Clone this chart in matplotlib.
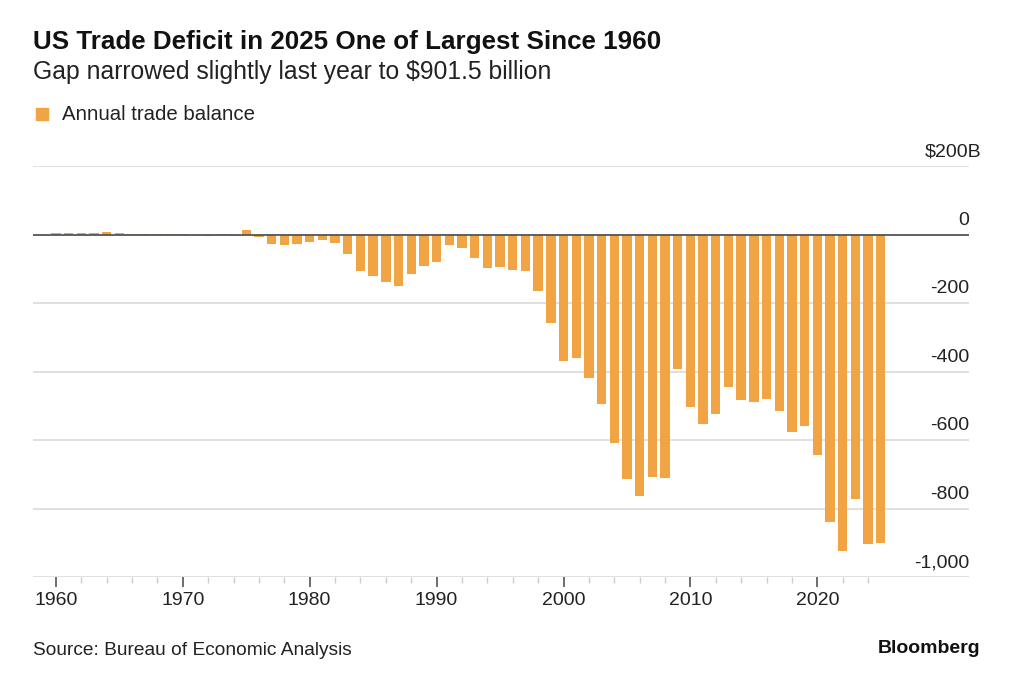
import numpy as np
import matplotlib
matplotlib.use("Agg")
import matplotlib.pyplot as plt

plt.rcParams['font.family'] = ['Liberation Sans', 'DejaVu Sans']

# annual US trade balance, billions of dollars
years = list(range(1960, 2026))
balance = [
    3.5, 4.2, 3.4, 4.2, 6.8, 4.9, 2.9, 2.6, 0.3, 0.1,            # 1960s
    2.3, -1.3, -5.4, 1.9, -4.3, 12.4, -6.1, -29, -32, -27,       # 1970s
    -21, -17, -25, -58, -108, -121, -138, -151, -114, -92,       # 1980s
    -80, -31, -38, -69, -98, -96, -104, -108, -164, -258,        # 1990s
    -369, -360, -419, -495, -609, -715, -763, -709, -711, -394,  # 2000s
    -503, -553, -524, -445, -483, -489, -479, -516, -576, -558,  # 2010s
    -645, -838, -923, -772, -903, -901.5,                        # 2020s
]
ytick_vals = [200, 0, -200, -400, -600, -800, -1000]
ytick_labels = ['$200B', '0', '-200', '-400', '-600', '-800', '-1,000']
xtick_major = [1960, 1970, 1980, 1990, 2000, 2010, 2020]
xtick_minor = list(range(1962, 2025, 2))

bar_color = '#F0A444'
grid_color = '#dddddd'
text_color = '#222222'

fig = plt.figure(figsize=(10.24, 6.91), dpi=100)
ax = fig.add_axes([33 / 1024, 114 / 691, 936 / 1024, 411 / 691])

ax.bar(years, balance, width=0.74, color=bar_color, zorder=2)

for v in ytick_vals:
    if v == 0:
        ax.axhline(v, color='#555555', lw=1.3, zorder=3)
    else:
        ax.axhline(v, color=grid_color, lw=1.3, zorder=1)

# value labels sit above their gridline, right aligned; the unit label hangs past the edge
for v, lab in zip(ytick_vals, ytick_labels):
    dx = 9 if lab.startswith('$') else 0
    ax.annotate(lab, xy=(1.0, v), xycoords=ax.get_yaxis_transform(),
                xytext=(dx, 7), textcoords='offset points',
                ha='right', va='baseline', fontsize=14, color=text_color)

ax.set_xlim(1958.2, 2031.95)
ax.set_ylim(-1000, 200)
for s in ax.spines.values():
    s.set_visible(False)
ax.set_yticks([])
ax.set_xticks(xtick_major)
ax.set_xticklabels([str(y) for y in xtick_major], fontsize=14, color=text_color)
ax.set_xticks(xtick_minor, minor=True)
ax.tick_params(axis='x', which='major', length=7, width=1.2, color='#555555', pad=4)
ax.tick_params(axis='x', which='minor', length=4, width=1, color='#cccccc')

fig.text(33 / 1024, 1 - 49.5 / 691, 'US Trade Deficit in 2025 One of Largest Since 1960',
         fontsize=18.7, fontweight='bold', color='#111111', va='baseline', ha='left')
fig.text(33 / 1024, 1 - 78.5 / 691, 'Gap narrowed slightly last year to $901.5 billion',
         fontsize=17.8, color=text_color, va='baseline', ha='left')

# legend
fig.patches.append(plt.Rectangle((36 / 1024, 1 - 120 / 691), 12 / 1024, 12 / 691,
                                 transform=fig.transFigure, color=bar_color, figure=fig))
fig.text(62 / 1024, 1 - 119.5 / 691, 'Annual trade balance', fontsize=14.7,
         color=text_color, va='baseline', ha='left')

fig.text(33 / 1024, 1 - 655 / 691, 'Source: Bureau of Economic Analysis', fontsize=13.8,
         color=text_color, va='baseline', ha='left')
fig.text(980 / 1024, 1 - 653 / 691, 'Bloomberg', fontsize=14, fontweight='bold',
         color='#111111', va='baseline', ha='right')

fig.savefig('out.png', dpi=100, facecolor='white')
